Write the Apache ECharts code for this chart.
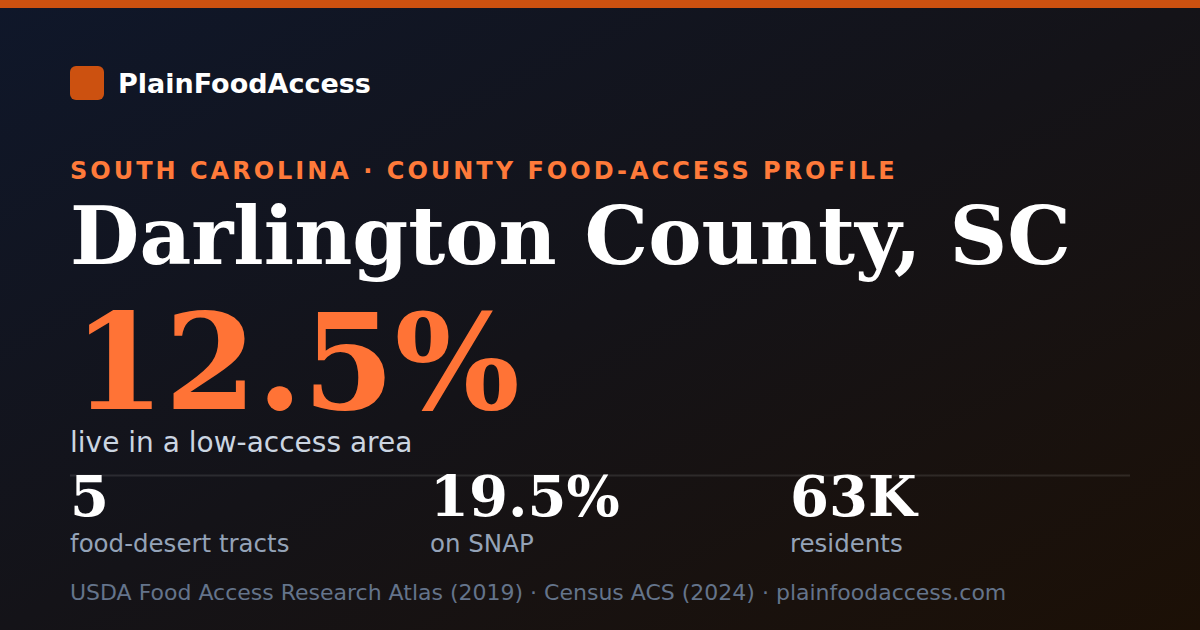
<!DOCTYPE html>
<html><head><meta charset="utf-8">
<script src="https://cdn.jsdelivr.net/npm/echarts@6/dist/echarts.min.js"></script>
<style>html,body{margin:0;padding:0;background:#111;}#c{width:1200px;height:630px;}</style>
</head><body><div id="c"></div>
<script>
const brand = "PlainFoodAccess";
const kicker = "SOUTH CAROLINA · COUNTY FOOD-ACCESS PROFILE";
const title = "Darlington County, SC";
const headline = "12.5%";
const headlineLabel = "live in a low-access area";
const statValues = ["5", "19.5%", "63K"];
const statLabels = ["food-desert tracts", "on SNAP", "residents"];
const footer = "USDA Food Access Research Atlas (2019) · Census ACS (2024) · plainfoodaccess.com";

const SANS = "'DejaVu Sans', sans-serif";
const SERIF = "'DejaVu Serif', serif";
const ORANGE = "#ff7336";
const BRAND_ORANGE = "#cc5110";

function txt(x, baseline, text, size, opts) {
  return {
    type: 'text', x: x, y: baseline - 0.346 * size,
    style: Object.assign({
      text: text, fontSize: size, fontFamily: SANS, fill: '#fff',
      align: 'left', verticalAlign: 'middle'
    }, opts || {})
  };
}

const elements = [
  { type: 'rect', shape: { x: 0, y: 0, width: 1200, height: 8 }, style: { fill: BRAND_ORANGE } },
  { type: 'rect', shape: { x: 70, y: 66, width: 34, height: 34, r: 6 }, style: { fill: BRAND_ORANGE } },
  txt(118, 93, brand, 27, { fontWeight: 'bold' }),
  txt(70, 179, kicker, 24, { fontWeight: 'bold', fill: '#ff7a3a' }),
  txt(70, 264, title, 80, { fontWeight: 'bold', fontFamily: SERIF, lineHeight: 70 }),
  txt(73, 408, headline, 132, { fontWeight: 'bold', fontFamily: SERIF, fill: ORANGE, lineHeight: 105 }),
  txt(70, 452, headlineLabel, 28, { fill: '#cbd5e1', lineHeight: 24 }),
  { type: 'line', shape: { x1: 70, y1: 475.5, x2: 1130, y2: 475.5 }, style: { stroke: 'rgba(255,255,255,0.1)', lineWidth: 2 } },
  txt(70, 600, footer, 22, { fill: '#64748b' })
];
const statX = [70, 430, 790];
statValues.forEach((v, i) => {
  elements.push(txt(statX[i], 515, v, 56, { fontWeight: 'bold', fontFamily: SERIF, lineHeight: 48 }));
  elements.push(txt(statX[i], 552, statLabels[i], 24.5, { fill: '#94a3b8' }));
});

const chart = echarts.init(document.getElementById('c'), null, { renderer: 'svg' });
chart.setOption({
  backgroundColor: new echarts.graphic.LinearGradient(0, 0, 1, 1, [
    { offset: 0, color: '#0f172a' },
    { offset: 0.5, color: '#141318' },
    { offset: 1, color: '#1c1006' }
  ]),
  animation: false,
  graphic: { elements: elements }
});
function spacing() {
  document.querySelectorAll('#c text').forEach(t => {
    if (t.textContent === kicker) t.setAttribute('letter-spacing', '3');
  });
}
chart.on('finished', spacing);
spacing();
</script></body></html>
